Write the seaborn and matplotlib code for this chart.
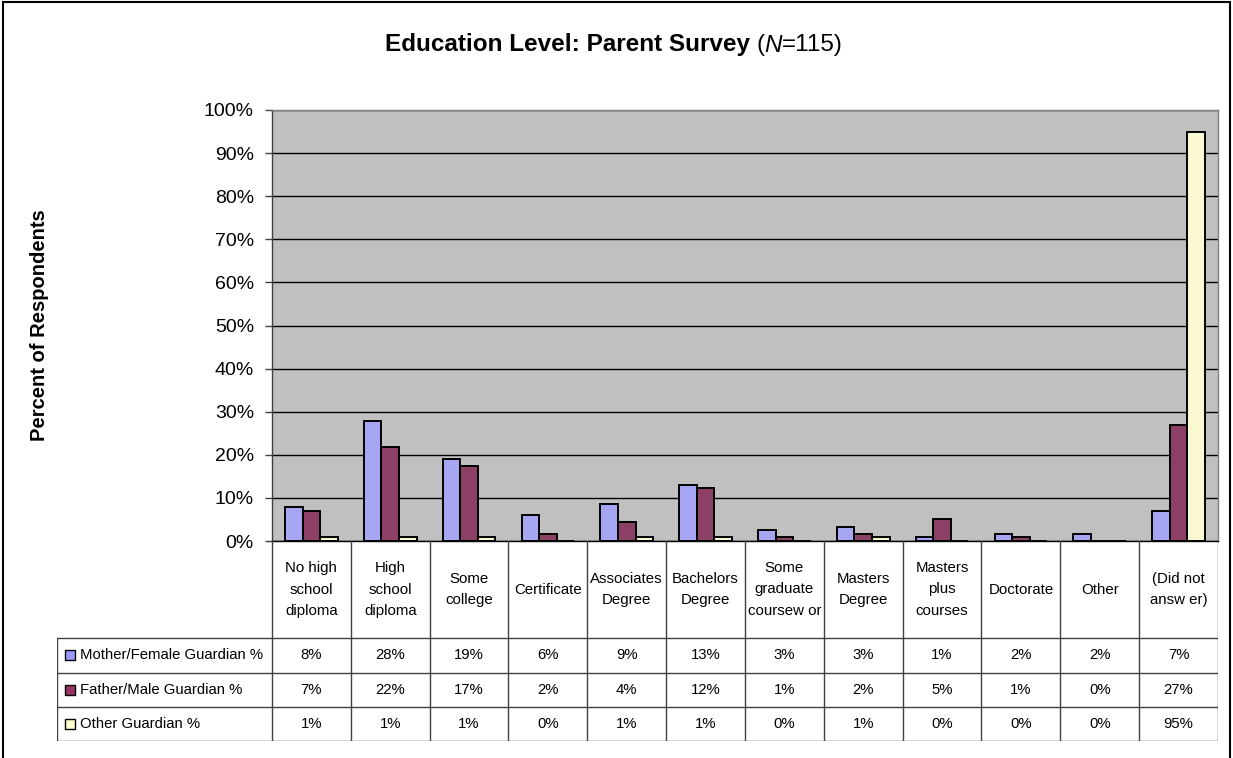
import pandas as pd
import matplotlib
matplotlib.use("Agg")
import matplotlib.pyplot as plt
from matplotlib.patches import Rectangle
import seaborn as sns

# data (percent of respondents, N=115)
categories = ["No high school diploma", "High school diploma", "Some college", "Certificate",
              "Associates Degree", "Bachelors Degree", "Some graduate coursework", "Masters Degree",
              "Masters plus courses", "Doctorate", "Other", "(Did not answer)"]
header_labels = ["No high\nschool\ndiploma", "High\nschool\ndiploma", "Some\ncollege", "Certificate",
                 "Associates\nDegree", "Bachelors\nDegree", "Some\ngraduate\ncoursew or", "Masters\nDegree",
                 "Masters\nplus\ncourses", "Doctorate", "Other", "(Did not\nansw er)"]
series = ["Mother/Female Guardian %", "Father/Male Guardian %", "Other Guardian %"]
mother = [7.8, 27.8, 19.1, 6.1, 8.7, 13.0, 2.6, 3.3, 0.9, 1.7, 1.7, 7.0]
father = [7.0, 21.7, 17.4, 1.7, 4.3, 12.2, 0.9, 1.7, 5.2, 0.9, 0.0, 27.0]
other = [0.9, 0.9, 0.9, 0.0, 0.9, 0.9, 0.0, 0.9, 0.0, 0.0, 0.0, 94.8]
colors = ["#9999FF", "#993366", "#FFFFCC"]

values = [mother, father, other]
df = pd.DataFrame({
    "Category": categories * 3,
    "Series": [s for s in series for _ in categories],
    "Value": mother + father + other,
})

sns.set_style("white")
plt.rcParams["font.family"] = ["Liberation Sans", "DejaVu Sans"]
plt.rcParams["text.color"] = "black"
plt.rcParams["ytick.labelcolor"] = "black"

W, H = 1233, 758
fig = plt.figure(figsize=(W / 100, H / 100), dpi=100)

# plot area in pixel layout
left, right, top, bottom = 272, 1218, 110, 541
ax = fig.add_axes([left / W, 1 - bottom / H, (right - left) / W, (bottom - top) / H])
ax.set_facecolor("#C0C0C0")
sns.barplot(data=df, x="Category", y="Value", hue="Series", order=categories, hue_order=series,
            palette=colors, edgecolor="black", linewidth=1.4, width=0.67, legend=False, ax=ax)
ax.set_xlim(-0.5, 11.5)
ax.set_ylim(0, 100)
ax.set_yticks(range(0, 101, 10))
ax.set_yticklabels([f"{v}%" for v in range(0, 101, 10)], fontsize=14, color="black")
ax.set_xticks([])
ax.set_xlabel("")
ax.set_ylabel("")
ax.yaxis.grid(True, color="black", linewidth=1)
ax.set_axisbelow(True)
ax.tick_params(axis="y", direction="out", length=5, width=1, color="#404040", pad=8, left=True)
for s in ["top", "right"]:
    ax.spines[s].set_color("#808080")
ax.spines["left"].set_color("#404040")
ax.spines["bottom"].set_color("black")
for s in ax.spines.values():
    s.set_linewidth(1)

fig.text(40 / W, 1 - 325 / H, "Percent of Respondents", rotation=90, fontsize=14.5, fontweight="bold",
         ha="center", va="center", color="black")

# data table below the plot
slot = (right - left) / 12
tab_left = 57
x0 = -0.5 - (left - tab_left) / slot
tax = fig.add_axes([tab_left / W, 1 - 741 / H, (right - tab_left) / W, (741 - bottom) / H])
tax.set_xlim(x0, 11.5)
tax.set_ylim(200, 0)
tax.axis("off")
lc = "#404040"
rows = [97, 131.5, 166, 200]
for k in range(13):
    tax.plot([k - 0.5, k - 0.5], [0, 200], color=lc, lw=1)
tax.plot([x0, x0], [rows[0], 200], color=lc, lw=1)
for r in rows:
    tax.plot([x0, 11.5], [r, r], color=lc, lw=1)
for k, lab in enumerate(header_labels):
    tax.text(k, rows[0] / 2, lab, ha="center", va="center", fontsize=10.8, linespacing=1.65,
             color="black")
for i, (name, vals, c) in enumerate(zip(series, values, colors)):
    yc = (rows[i] + rows[i + 1]) / 2
    tax.add_patch(Rectangle((x0 + 8 / slot, yc - 5), 10 / slot, 10, facecolor=c, edgecolor="black", lw=1))
    tax.text(x0 + 23 / slot, yc, name, ha="left", va="center", fontsize=10.7, color="black")
    for k, v in enumerate(vals):
        tax.text(k, yc, f"{round(v):.0f}%", ha="center", va="center", fontsize=10.7, color="black")

# title: bold part followed by (N=115) with italic N
renderer = fig.canvas.get_renderer()
ty = 1 - 45 / H
parts = [("Education Level: Parent Survey ", "bold", "normal"), ("(", "normal", "normal"),
         ("N", "normal", "italic"), ("=115)", "normal", "normal")]
texts = []
for s, w, st in parts:
    texts.append(fig.text(0, ty, s, fontsize=17.5, fontweight=w, fontstyle=st, va="center", ha="left",
                          color="black"))
widths = [t.get_window_extent(renderer).width for t in texts]
x = (614 - sum(widths) / 2) / W
for t, wd in zip(texts, widths):
    t.set_x(x)
    x += wd / W

fig.add_artist(Rectangle((3 / W, -0.01), (1230 - 3) / W, 1.01 - 2 / H, transform=fig.transFigure,
                         fill=False, edgecolor="black", lw=1.5))

fig.savefig("out.png", dpi=100)
